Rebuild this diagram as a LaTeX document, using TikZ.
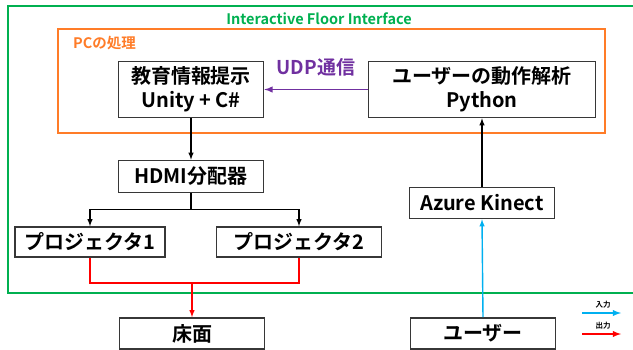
\documentclass[tikz,border=0pt]{standalone}
\usepackage{fontspec}
\setmainfont{Noto Sans CJK JP}[BoldFont={Noto Sans CJK JP Bold}]
\usetikzlibrary{positioning,arrows,calc}

\definecolor{ifigreen}{RGB}{0,176,80}
\definecolor{pcorange}{RGB}{255,124,40}
\definecolor{udppurple}{RGB}{112,48,160}
\definecolor{inblue}{RGB}{0,176,240}
\definecolor{boxgray}{RGB}{55,55,55}

\begin{document}
\begin{tikzpicture}
  [x=1pt, y=-1pt,
    box type 1/.style={draw=boxgray, line width=1.6pt, fill=white, align=center, inner sep=0pt,
      font=\bfseries\fontsize{20}{24}\selectfont},
    arrow type 1/.style={-latex, line width=1.4pt, black},
    arrow type 2/.style={line width=1.4pt, red},
    arrow type 3/.style={-latex, line width=1.4pt, inblue},
    legend text/.style={font=\bfseries\fontsize{7.5}{8}\selectfont, inner sep=0pt},
  ]

  \useasboundingbox (0,0) rectangle (633,349);
  \clip (0,0) rectangle (633,349);

  % frames
  \draw[ifigreen, line width=1.6pt] (8,6) rectangle (660,293);
  \node[ifigreen, font=\bfseries\fontsize{14.5}{16}\selectfont] (ifi) at (319,19) {Interactive Floor Interface};
  \draw[pcorange, line width=1.6pt] (58,29) rectangle (605,133);
  \node[pcorange, font=\bfseries\fontsize{14.5}{16}\selectfont, anchor=west, inner sep=0pt] (pc) at (73,43) {PCの処理};

  % boxes
  \node[box type 1, minimum width=145, minimum height=56] (unity) at (191,89.5) {教育情報提示\\Unity + C\#};
  \node[box type 1, minimum width=227, minimum height=56] (python) at (482,89.5) {ユーザーの動作解析\\Python};
  \node[box type 1, minimum width=145, minimum height=32] (hdmi) at (191,176.5) {HDMI分配器};
  \node[box type 1, minimum width=150, minimum height=30] (proj1) at (90,242) {プロジェクタ1};
  \node[box type 1, minimum width=165, minimum height=30] (proj2) at (299,242) {プロジェクタ2};
  \node[box type 1, minimum width=145, minimum height=31] (azure) at (482,203) {Azure Kinect};
  \node[box type 1, minimum width=145, minimum height=31] (floor) at (192,333.5) {床面};
  \node[box type 1, minimum width=145, minimum height=31] (user) at (483,333.5) {ユーザー};

  \node[udppurple, font=\bfseries\fontsize{19}{22}\selectfont] (udp) at (316,67) {UDP通信};

  % connections
  \coordinate (split) at ($(hdmi.south) + (0,16)$);
  \coordinate (join) at (192,283);

  \draw[-latex, line width=1.8pt, udppurple] (python.west |- unity.east) -- (unity.east);
  \draw[arrow type 1] (unity.south) -- (hdmi.north);
  \draw[line width=1.4pt] (hdmi.south) -- (split);
  \draw[arrow type 1] (split) -| (proj1.north);
  \draw[arrow type 1] (split) -| (proj2.north);
  \draw[arrow type 2] (proj1.south) |- (join) -| (proj2.south);
  \draw[arrow type 2, -latex] (join) -- (floor.north);
  \draw[arrow type 3] (user.north) -- (azure.south);
  \draw[arrow type 1] (azure.north) -- (python.south);

  % legend
  \coordinate (in start) at (582,313);
  \coordinate (in end) at (621,313);
  \coordinate (out start) at (582,334);
  \coordinate (out end) at (621,334);
  \draw[arrow type 3, line width=1.8pt] (in start) -- (in end);
  \draw[arrow type 2, line width=1.8pt, -latex] (out start) -- (out end);
  \node[legend text] (in label) at (603,305) {入力};
  \node[legend text] (out label) at (603,326) {出力};

\end{tikzpicture}
\end{document}
